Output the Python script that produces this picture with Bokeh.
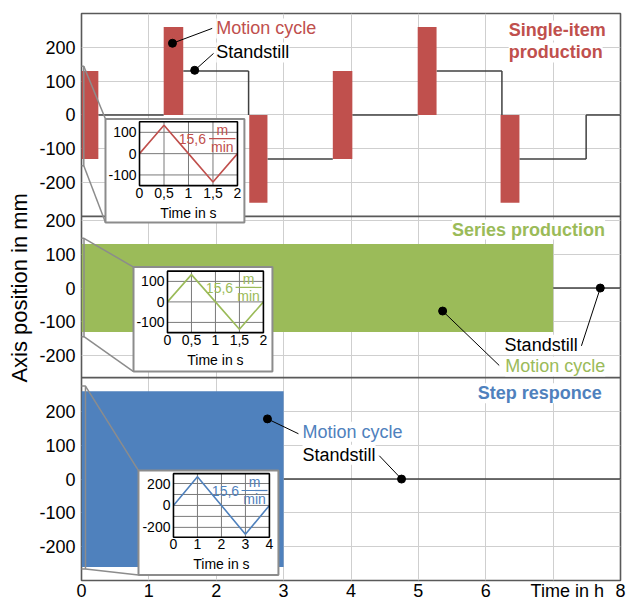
import math
from bokeh.plotting import figure
from bokeh.models import Range1d, FixedTicker, ColumnDataSource, LabelSet
from bokeh.core.properties import value
from bokeh.embed import file_html
from bokeh.resources import INLINE

FONT = "Liberation Sans"
RED, GREEN, BLUE = "#C0504D", "#9BBB59", "#4F81BD"
STEP = "#404040"
FRAME = "#595959"
GRID = "#cfcfcf"
INSET_GRAY = "#8c8c8c"

# ---------------- data ----------------
x_grid_ticks = [0, 1, 2, 3, 4, 5, 6, 7, 8]
x_label_ticks = [0, 1, 2, 3, 4, 5, 6, 7.21, 8]
x_tick_labels = ["0", "1", "2", "3", "4", "5", "6", "Time in h", "8"]
y_axis_title = "Axis position in mm"
y_ticks = [-200, -100, 0, 100, 200]
y_tick_labels = ["-200", "-100", "0", "100", "200"]

panel_low = [-300, -265, -300]
panel_high = [300, 212, 300]
panel_colors = [RED, GREEN, BLUE]

# single-item production (h, mm)
single_cycle_start = [0.00, 1.22, 2.49, 3.73, 4.99, 6.22]
single_cycle_end = [0.25, 1.51, 2.76, 4.02, 5.27, 6.50]
single_cycle_low = [-130, 0, -260, -130, 0, -260]
single_cycle_high = [130, 260, 0, 130, 260, 0]
single_still_start = [0.25, 1.51, 2.76, 4.02, 5.27, 6.50, 7.49]
single_still_end = [1.22, 2.48, 3.73, 4.99, 6.24, 7.49, 8.00]
single_still_level = [0, 130, -130, 0, 130, -130, 0]
single_jump_x = [2.48, 6.24, 7.49]
single_jump_from = [130, 130, -130]
single_jump_to = [0, 0, 0]

# series production
series_cycle_start = [0.0]
series_cycle_end = [7.0]
series_cycle_low = [-130]
series_cycle_high = [130]
series_still_start = [7.0]
series_still_end = [8.0]
series_still_level = [0]

# step responce
step_cycle_start = [0.0]
step_cycle_end = [3.0]
step_cycle_low = [-260]
step_cycle_high = [260]
step_still_start = [3.0]
step_still_end = [8.0]
step_still_level = [0]

# insets (s, mm)
inset_time_2s = [0, 0.5, 1, 1.5, 2]
inset_pos_130 = [0, 133, 0, -133, 0]
inset_time_4s = [0, 1, 2, 3, 4]
inset_pos_260 = [0, 262, 0, -262, 0]
inset_t_ticks_2s = [0, 0.5, 1, 1.5, 2]
inset_t_labels_2s = ["0", "0,5", "1", "1,5", "2"]
inset_t_ticks_4s = [0, 1, 2, 3, 4]
inset_t_labels_4s = ["0", "1", "2", "3", "4"]
inset_v_ticks_150 = [-100, 0, 100]
inset_v_labels_150 = ["-100", "0", "100"]
inset_v_grid_150 = [-100, 0, 100]
inset_v_ticks_300 = [-200, 0, 200]
inset_v_labels_300 = ["-200", "0", "200"]
inset_v_grid_300 = [-200, -100, 0, 100, 200]
inset_x_title = "Time in s"
speed_value = "15,6"
speed_unit_num = "m"
speed_unit_den = "min"

# ---------------- layout ----------------
offsets = [0]
for i in range(1, 3):
    offsets.append(offsets[i - 1] + panel_low[i - 1] - panel_high[i])
Y0 = offsets[2] + panel_low[2]
Y1 = panel_high[0]
X0, X1 = 0, 8

p = figure(width=628, height=603, x_range=Range1d(X0, X1), y_range=Range1d(Y0, Y1),
           output_backend="svg", toolbar_location=None,
           min_border_left=81, min_border_right=8, min_border_top=13, min_border_bottom=0)
p.background_fill_color = "white"
p.border_fill_color = "white"
p.outline_line_color = FRAME
p.outline_line_width = 1.6

global_ticks = []
global_labels = {}
for off in offsets:
    for t, lab in zip(y_ticks, y_tick_labels):
        g = int(t + off)
        global_ticks.append(g)
        global_labels[g] = lab

xa = p.xaxis[0]
ya = p.yaxis[0]
xa.ticker = FixedTicker(ticks=x_label_ticks)
xa.major_label_overrides = {t: l for t, l in zip(x_label_ticks, x_tick_labels)}
ya.ticker = FixedTicker(ticks=global_ticks)
ya.major_label_overrides = global_labels
for ax in (xa, ya):
    ax.axis_line_color = None
    ax.major_tick_line_color = None
    ax.minor_tick_line_color = None
    ax.major_tick_out = 0
    ax.major_tick_in = 0
    ax.major_label_text_font = FONT
    ax.major_label_text_font_size = "18px"
    ax.major_label_text_color = "black"
xa.major_label_standoff = 0
ya.major_label_standoff = 6
ya.axis_label = "\u00a0" * 3 + y_axis_title
ya.axis_label_text_font = FONT
ya.axis_label_text_font_size = "22px"
ya.axis_label_text_font_style = "normal"
ya.axis_label_text_color = "black"
ya.axis_label_standoff = 4

p.xgrid.ticker = FixedTicker(ticks=x_grid_ticks)
p.ygrid.ticker = FixedTicker(ticks=global_ticks)
for g in (p.xgrid, p.ygrid):
    g.grid_line_color = GRID
    g.grid_line_width = 1

# main bars and standstill lines
panels = [
    (single_cycle_start, single_cycle_end, single_cycle_low, single_cycle_high,
     single_still_start, single_still_end, single_still_level),
    (series_cycle_start, series_cycle_end, series_cycle_low, series_cycle_high,
     series_still_start, series_still_end, series_still_level),
    (step_cycle_start, step_cycle_end, step_cycle_low, step_cycle_high,
     step_still_start, step_still_end, step_still_level),
]
for i, (cs, ce, cl, ch, ss, se, sl) in enumerate(panels):
    off = offsets[i]
    p.segment(x0=ss, x1=se, y0=[v + off for v in sl], y1=[v + off for v in sl],
              line_color=STEP, line_width=1.5)
    if i == 0:
        p.segment(x0=single_jump_x, x1=single_jump_x,
                  y0=[v + off for v in single_jump_from], y1=[v + off for v in single_jump_to],
                  line_color=STEP, line_width=1.5)
    p.quad(left=cs, right=ce, bottom=[v + off for v in cl], top=[v + off for v in ch],
           fill_color=panel_colors[i], line_color=None)

# panel separators
seps = [offsets[0] + panel_low[0], offsets[1] + panel_low[1]]
p.segment(x0=[X0] * 2, x1=[X1] * 2, y0=seps, y1=seps, line_color=FRAME, line_width=1.6)

# ---------------- insets ----------------
INSETS = [
    dict(panel=0, box=(0.356, 2.418, -318, -12), frame=(0.861, 2.315, -209, -20),
         zoom=(-0.034, 0.034, -150, 144), t_range=(0, 2), v_range=(-150, 150),
         t=inset_time_2s, v=inset_pos_130, tt=inset_t_ticks_2s, tl=inset_t_labels_2s,
         vt=inset_v_ticks_150, vl=inset_v_labels_150, vg=inset_v_grid_150),
    dict(panel=1, box=(0.772, 2.834, -247, 62), frame=(1.276, 2.700, -132, 50),
         zoom=(-0.045, 0.037, -144, 147), t_range=(0, 2), v_range=(-150, 150),
         t=inset_time_2s, v=inset_pos_130, tt=inset_t_ticks_2s, tl=inset_t_labels_2s,
         vt=inset_v_ticks_150, vl=inset_v_labels_150, vg=inset_v_grid_150),
    dict(panel=2, box=(0.846, 2.923, -284, 25), frame=(1.365, 2.789, -172, 16),
         zoom=(-0.045, 0.059, -266, 275), t_range=(0, 4), v_range=(-290, 290),
         t=inset_time_4s, v=inset_pos_260, tt=inset_t_ticks_4s, tl=inset_t_labels_4s,
         vt=inset_v_ticks_300, vl=inset_v_labels_300, vg=inset_v_grid_300),
]

extra_x, extra_y = {}, {}
for k, ins in enumerate(INSETS):
    off = offsets[ins["panel"]]
    fx0, fx1, fy0, fy1 = ins["frame"]
    t0, t1 = ins["t_range"]
    v0, v1 = ins["v_range"]
    sx = (t1 - t0) / (fx1 - fx0)
    gy0, gy1 = fy0 + off, fy1 + off
    sy = (v1 - v0) / (gy1 - gy0)
    extra_x[f"ix{k}"] = Range1d(t0 - (fx0 - X0) * sx, t0 + (X1 - fx0) * sx)
    extra_y[f"iy{k}"] = Range1d(v0 - (gy0 - Y0) * sy, v0 + (Y1 - gy0) * sy)
p.extra_x_ranges = extra_x
p.extra_y_ranges = extra_y

for k, ins in enumerate(INSETS):
    off = offsets[ins["panel"]]
    color = panel_colors[ins["panel"]]
    bx0, bx1, by0, by1 = ins["box"]
    zx0, zx1, zy0, zy1 = ins["zoom"]
    p.segment(x0=[zx1, zx1], y0=[zy1 + off, zy0 + off], x1=[bx0, bx0], y1=[by1 + off, by0 + off],
              line_color=INSET_GRAY, line_width=1.5)
    p.quad(left=[zx0], right=[zx1], bottom=[zy0 + off], top=[zy1 + off],
           fill_color=None, line_color=INSET_GRAY, line_width=1.5)
    p.quad(left=[bx0], right=[bx1], bottom=[by0 + off], top=[by1 + off],
           fill_color="white", line_color=INSET_GRAY, line_width=2)
    rn = dict(x_range_name=f"ix{k}", y_range_name=f"iy{k}")
    t0, t1 = ins["t_range"]
    v0, v1 = ins["v_range"]
    inner_t = [t for t in ins["tt"] if t0 < t < t1]
    p.segment(x0=inner_t, x1=inner_t, y0=[v0] * len(inner_t), y1=[v1] * len(inner_t),
              line_color="#7a7a7a", line_width=1, **rn)
    p.segment(x0=[t0] * len(ins["vg"]), x1=[t1] * len(ins["vg"]), y0=ins["vg"], y1=ins["vg"],
              line_color="#7a7a7a", line_width=1, **rn)
    p.line(x=ins["t"], y=ins["v"], line_color=color, line_width=1.6, **rn)
    p.quad(left=[t0], right=[t1], bottom=[v0], top=[v1], fill_color=None,
           line_color="black", line_width=1.6, **rn)
    txt = dict(text_font=value(FONT), text_font_size="14px", text_color="black")
    p.text(x=[t0] * len(ins["vt"]), y=ins["vt"], text=ins["vl"], x_offset=-3,
           text_align="right", text_baseline="middle", **txt, **rn)
    p.text(x=ins["tt"], y=[v0] * len(ins["tt"]), text=ins["tl"], y_offset=2,
           text_align="center", text_baseline="top", **txt, **rn)
    p.text(x=[(t0 + t1) / 2], y=[v0], text=[inset_x_title], y_offset=19,
           text_align="center", text_baseline="top", **txt, **rn)

    def fx(f):
        return t0 + f * (t1 - t0)

    def fy(f):
        return v0 + f * (v1 - v0)

    ctxt = dict(text_font=value(FONT), text_font_size="14px", text_color=color)
    p.text(x=[fx(0.40)], y=[fy(0.725)], text=[speed_value], text_align="left",
           text_baseline="middle", **ctxt, **rn)
    p.text(x=[fx(0.845)], y=[fy(0.87)], text=[speed_unit_num], text_align="center",
           text_baseline="middle", **ctxt, **rn)
    p.text(x=[fx(0.845)], y=[fy(0.60)], text=[speed_unit_den], text_align="center",
           text_baseline="middle", **ctxt, **rn)
    p.segment(x0=[fx(0.71)], x1=[fx(0.98)], y0=[fy(0.735)], y1=[fy(0.735)],
              line_color=color, line_width=1.2, **rn)

# ---------------- annotations ----------------
LEADERS = [  # panel, dot x, dot y, end x, end y
    (0, 1.35, 212, 1.94, 256), (0, 1.68, 132, 1.96, 182),
    (1, 5.36, -68, 6.20, -229), (1, 7.70, 0, 7.42, -171),
    (2, 2.76, 178, 3.22, 134), (2, 4.75, 0, 4.42, 69),
]
p.segment(x0=[l[1] for l in LEADERS], y0=[l[2] + offsets[l[0]] for l in LEADERS],
          x1=[l[3] for l in LEADERS], y1=[l[4] + offsets[l[0]] for l in LEADERS],
          line_color="black", line_width=1)
p.scatter(x=[l[1] for l in LEADERS], y=[l[2] + offsets[l[0]] for l in LEADERS],
          size=8, fill_color="black", line_color="black")

NOTES = [  # panel, x, y, text, color
    (0, 2.00, 256, "Motion cycle", RED), (0, 2.00, 185, "Standstill", "black"),
    (1, 6.28, -168, "Standstill", "black"), (1, 6.29, -232, "Motion cycle", GREEN),
    (2, 3.28, 140, "Motion cycle", BLUE), (2, 3.28, 72, "Standstill", "black"),
]
TITLES = [
    (0, 6.34, 250, "Single-item", RED), (0, 6.34, 185, "production", RED),
    (1, 5.50, 173, "Series production", GREEN),
    (2, 5.88, 254, "Step responce", BLUE),
]
for items, style in ((NOTES, "normal"), (TITLES, "bold")):
    src = ColumnDataSource(dict(x=[n[1] for n in items], y=[n[2] + offsets[n[0]] for n in items],
                                text=[n[3] for n in items], color=[n[4] for n in items]))
    p.add_layout(LabelSet(x="x", y="y", text="text", source=src, text_color="color",
                          text_font=value(FONT), text_font_size="18px", text_font_style=style,
                          text_align="left", text_baseline="middle",
                          background_fill_color="white"))

open("out.html", "w").write(file_html(p, INLINE))
